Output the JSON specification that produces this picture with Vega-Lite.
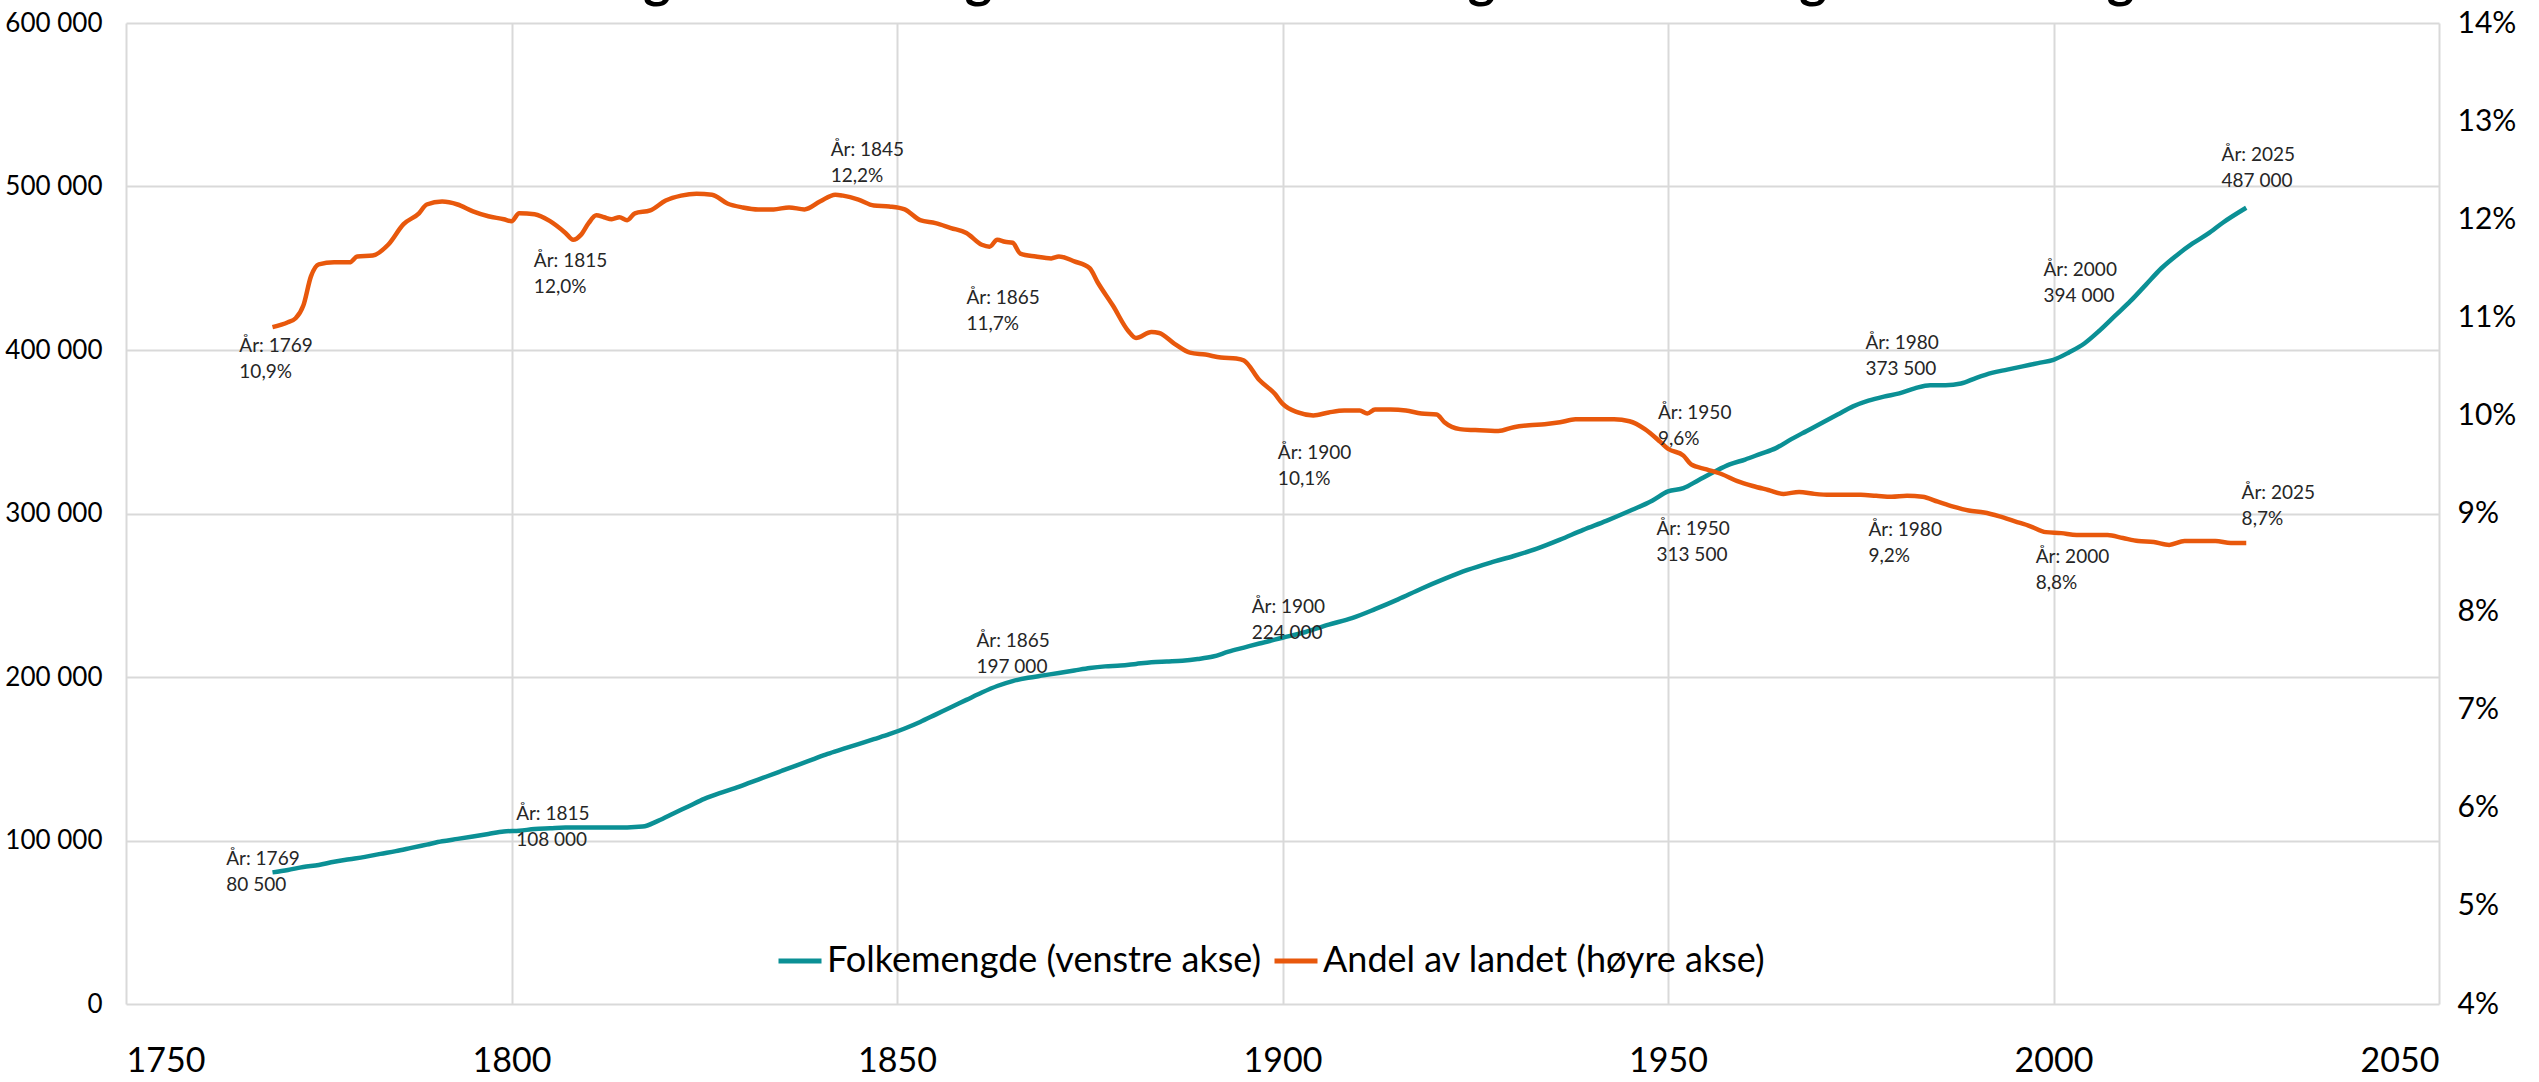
{
  "$schema": "https://vega.github.io/schema/vega-lite/v6.json",
  "width": 2313,
  "height": 981,
  "autosize": {"type": "none"},
  "padding": {"left": 126, "top": 23, "right": 100, "bottom": 78},
  "background": "white",
  "title": {
    "text": "Folkemengde i Trøndelag 1769-2025. Antall og andel av Norges befolkning.",
    "font": "Lato",
    "fontSize": 52,
    "fontWeight": "bold",
    "color": "#000000",
    "anchor": "middle",
    "frame": "group",
    "offset": 0
  },
  "config": {
    "font": "Lato",
    "view": {"stroke": null},
    "axis": {
      "domain": false,
      "ticks": false,
      "labelFont": "Lato",
      "labelColor": "#000000",
      "gridColor": "#D9D9D9",
      "gridWidth": 2,
      "title": null
    },
    "legend": {
      "orient": "none",
      "legendX": 650,
      "legendY": 914,
      "direction": "horizontal",
      "symbolType": "stroke",
      "symbolStrokeWidth": 5,
      "symbolSize": 1849,
      "labelFontSize": 36,
      "labelFont": "Lato",
      "labelColor": "#000000",
      "labelOffset": 3,
      "labelLimit": 800,
      "columnPadding": 2,
      "title": null
    }
  },
  "datasets": {
    "pop": [
      {"year": 1769, "value": 80500}, {"year": 1771, "value": 82000}, {"year": 1773, "value": 83800},
      {"year": 1775, "value": 85000}, {"year": 1777, "value": 87000}, {"year": 1779, "value": 88500},
      {"year": 1781, "value": 90000}, {"year": 1783, "value": 91800}, {"year": 1785, "value": 93500},
      {"year": 1787, "value": 95500}, {"year": 1789, "value": 97500}, {"year": 1791, "value": 99500},
      {"year": 1793, "value": 101000}, {"year": 1795, "value": 102500}, {"year": 1797, "value": 104000},
      {"year": 1799, "value": 105500}, {"year": 1801, "value": 106000}, {"year": 1803, "value": 107000},
      {"year": 1805, "value": 107500}, {"year": 1807, "value": 108000}, {"year": 1810, "value": 108000},
      {"year": 1813, "value": 108000}, {"year": 1815, "value": 108000}, {"year": 1817, "value": 108500},
      {"year": 1819, "value": 112000}, {"year": 1821, "value": 116500}, {"year": 1823, "value": 121000},
      {"year": 1825, "value": 125500}, {"year": 1827, "value": 129000}, {"year": 1829, "value": 132000},
      {"year": 1831, "value": 135500}, {"year": 1833, "value": 139000}, {"year": 1835, "value": 142500},
      {"year": 1837, "value": 146000}, {"year": 1839, "value": 149500}, {"year": 1841, "value": 153000},
      {"year": 1843, "value": 156000}, {"year": 1845, "value": 159000}, {"year": 1847, "value": 162000},
      {"year": 1849, "value": 165000}, {"year": 1851, "value": 168500}, {"year": 1853, "value": 172500},
      {"year": 1855, "value": 177000}, {"year": 1857, "value": 181500}, {"year": 1859, "value": 186000},
      {"year": 1861, "value": 190500}, {"year": 1863, "value": 194500}, {"year": 1865, "value": 197500},
      {"year": 1867, "value": 199500}, {"year": 1869, "value": 201000}, {"year": 1871, "value": 202500},
      {"year": 1873, "value": 204000}, {"year": 1875, "value": 205500}, {"year": 1877, "value": 206500},
      {"year": 1879, "value": 207000}, {"year": 1881, "value": 208000}, {"year": 1883, "value": 209000},
      {"year": 1885, "value": 209500}, {"year": 1887, "value": 210000}, {"year": 1889, "value": 211000},
      {"year": 1891, "value": 212500}, {"year": 1893, "value": 215500}, {"year": 1895, "value": 218000},
      {"year": 1897, "value": 220500}, {"year": 1900, "value": 224000}, {"year": 1903, "value": 227500},
      {"year": 1906, "value": 232000}, {"year": 1909, "value": 236000}, {"year": 1912, "value": 241500},
      {"year": 1915, "value": 247500}, {"year": 1918, "value": 254000}, {"year": 1921, "value": 260000},
      {"year": 1924, "value": 265500}, {"year": 1927, "value": 270000}, {"year": 1930, "value": 274000},
      {"year": 1933, "value": 278500}, {"year": 1936, "value": 284000}, {"year": 1939, "value": 290000},
      {"year": 1942, "value": 295500}, {"year": 1945, "value": 301500}, {"year": 1948, "value": 308000},
      {"year": 1950, "value": 313500}, {"year": 1952, "value": 315500}, {"year": 1954, "value": 320500},
      {"year": 1956, "value": 325500}, {"year": 1958, "value": 330000}, {"year": 1960, "value": 333000},
      {"year": 1962, "value": 336500}, {"year": 1964, "value": 340000}, {"year": 1966, "value": 345500},
      {"year": 1968, "value": 350500}, {"year": 1970, "value": 355500}, {"year": 1972, "value": 360500},
      {"year": 1974, "value": 365500}, {"year": 1976, "value": 369000}, {"year": 1978, "value": 371500},
      {"year": 1980, "value": 373500}, {"year": 1982, "value": 376500}, {"year": 1984, "value": 378500},
      {"year": 1986, "value": 378500}, {"year": 1988, "value": 379500}, {"year": 1990, "value": 383000},
      {"year": 1992, "value": 386000}, {"year": 1994, "value": 388000}, {"year": 1996, "value": 390000},
      {"year": 1998, "value": 392000}, {"year": 2000, "value": 394000}, {"year": 2002, "value": 398500},
      {"year": 2004, "value": 404000}, {"year": 2006, "value": 412000}, {"year": 2008, "value": 421000},
      {"year": 2010, "value": 430000}, {"year": 2012, "value": 440000}, {"year": 2014, "value": 450000},
      {"year": 2016, "value": 458000}, {"year": 2018, "value": 465000}, {"year": 2020, "value": 471000},
      {"year": 2022, "value": 478000}, {"year": 2025, "value": 487000}
    ],
    "share": [
      {"year": 1769, "value": 10.9}, {"year": 1771, "value": 10.95}, {"year": 1772, "value": 10.99},
      {"year": 1773, "value": 11.12}, {"year": 1774, "value": 11.42}, {"year": 1775, "value": 11.54},
      {"year": 1777, "value": 11.56}, {"year": 1779, "value": 11.56}, {"year": 1780, "value": 11.62},
      {"year": 1782, "value": 11.63}, {"year": 1784, "value": 11.74}, {"year": 1786, "value": 11.95},
      {"year": 1788, "value": 12.06}, {"year": 1789, "value": 12.15}, {"year": 1791, "value": 12.18},
      {"year": 1793, "value": 12.15}, {"year": 1795, "value": 12.08}, {"year": 1797, "value": 12.03},
      {"year": 1799, "value": 12.0}, {"year": 1800, "value": 11.98}, {"year": 1801, "value": 12.06},
      {"year": 1803, "value": 12.05}, {"year": 1805, "value": 11.98}, {"year": 1807, "value": 11.86},
      {"year": 1808, "value": 11.79}, {"year": 1809, "value": 11.84}, {"year": 1810, "value": 11.96},
      {"year": 1811, "value": 12.04}, {"year": 1812, "value": 12.02}, {"year": 1813, "value": 12.0},
      {"year": 1814, "value": 12.02}, {"year": 1815, "value": 11.99}, {"year": 1816, "value": 12.06},
      {"year": 1818, "value": 12.09}, {"year": 1820, "value": 12.19}, {"year": 1822, "value": 12.24},
      {"year": 1824, "value": 12.26}, {"year": 1826, "value": 12.25}, {"year": 1828, "value": 12.16},
      {"year": 1830, "value": 12.12}, {"year": 1832, "value": 12.1}, {"year": 1834, "value": 12.1},
      {"year": 1836, "value": 12.12}, {"year": 1838, "value": 12.1}, {"year": 1840, "value": 12.18},
      {"year": 1842, "value": 12.25}, {"year": 1843, "value": 12.24}, {"year": 1845, "value": 12.2},
      {"year": 1847, "value": 12.14}, {"year": 1849, "value": 12.13}, {"year": 1851, "value": 12.1},
      {"year": 1853, "value": 11.99}, {"year": 1855, "value": 11.96}, {"year": 1857, "value": 11.91},
      {"year": 1859, "value": 11.86}, {"year": 1861, "value": 11.74}, {"year": 1862, "value": 11.72},
      {"year": 1863, "value": 11.79}, {"year": 1864, "value": 11.77}, {"year": 1865, "value": 11.76},
      {"year": 1866, "value": 11.65}, {"year": 1868, "value": 11.62}, {"year": 1870, "value": 11.6},
      {"year": 1871, "value": 11.62}, {"year": 1873, "value": 11.57}, {"year": 1875, "value": 11.5},
      {"year": 1876, "value": 11.36}, {"year": 1878, "value": 11.12}, {"year": 1880, "value": 10.86},
      {"year": 1881, "value": 10.79}, {"year": 1883, "value": 10.85}, {"year": 1884, "value": 10.84},
      {"year": 1886, "value": 10.73}, {"year": 1888, "value": 10.64}, {"year": 1890, "value": 10.62},
      {"year": 1892, "value": 10.59}, {"year": 1894, "value": 10.58}, {"year": 1895, "value": 10.56},
      {"year": 1897, "value": 10.36}, {"year": 1899, "value": 10.22}, {"year": 1900, "value": 10.12},
      {"year": 1902, "value": 10.03}, {"year": 1904, "value": 10.0}, {"year": 1906, "value": 10.03},
      {"year": 1908, "value": 10.05}, {"year": 1910, "value": 10.05}, {"year": 1911, "value": 10.02},
      {"year": 1912, "value": 10.06}, {"year": 1914, "value": 10.06}, {"year": 1916, "value": 10.05},
      {"year": 1918, "value": 10.02}, {"year": 1920, "value": 10.01}, {"year": 1921, "value": 9.93},
      {"year": 1923, "value": 9.86}, {"year": 1925, "value": 9.85}, {"year": 1928, "value": 9.84},
      {"year": 1930, "value": 9.88}, {"year": 1932, "value": 9.9}, {"year": 1934, "value": 9.91},
      {"year": 1936, "value": 9.93}, {"year": 1938, "value": 9.96}, {"year": 1940, "value": 9.96},
      {"year": 1943, "value": 9.96}, {"year": 1945, "value": 9.94}, {"year": 1947, "value": 9.86},
      {"year": 1949, "value": 9.73}, {"year": 1950, "value": 9.66}, {"year": 1952, "value": 9.59},
      {"year": 1953, "value": 9.5}, {"year": 1955, "value": 9.45}, {"year": 1957, "value": 9.4},
      {"year": 1959, "value": 9.33}, {"year": 1961, "value": 9.28}, {"year": 1963, "value": 9.24},
      {"year": 1965, "value": 9.2}, {"year": 1967, "value": 9.22}, {"year": 1969, "value": 9.2},
      {"year": 1971, "value": 9.19}, {"year": 1973, "value": 9.19}, {"year": 1975, "value": 9.19},
      {"year": 1977, "value": 9.18}, {"year": 1979, "value": 9.17}, {"year": 1981, "value": 9.18},
      {"year": 1983, "value": 9.17}, {"year": 1985, "value": 9.12}, {"year": 1987, "value": 9.07},
      {"year": 1989, "value": 9.03}, {"year": 1991, "value": 9.01}, {"year": 1993, "value": 8.97},
      {"year": 1995, "value": 8.92}, {"year": 1997, "value": 8.87}, {"year": 1999, "value": 8.81},
      {"year": 2001, "value": 8.8}, {"year": 2003, "value": 8.78}, {"year": 2005, "value": 8.78},
      {"year": 2007, "value": 8.78}, {"year": 2009, "value": 8.75}, {"year": 2011, "value": 8.72},
      {"year": 2013, "value": 8.71}, {"year": 2015, "value": 8.68}, {"year": 2017, "value": 8.72},
      {"year": 2019, "value": 8.72}, {"year": 2021, "value": 8.72}, {"year": 2023, "value": 8.7},
      {"year": 2025, "value": 8.7}
    ],
    "popLabels": [
      {"year": 1763.0, "value": 94000, "label": "År: 1769\n80 500"},
      {"year": 1800.6, "value": 121800, "label": "År: 1815\n108 000"},
      {"year": 1860.3, "value": 227700, "label": "År: 1865\n197 000"},
      {"year": 1896.0, "value": 248500, "label": "År: 1900\n224 000"},
      {"year": 1948.5, "value": 296000, "label": "År: 1950\n313 500"},
      {"year": 1975.6, "value": 409900, "label": "År: 1980\n373 500"},
      {"year": 1998.7, "value": 454500, "label": "År: 2000\n394 000"},
      {"year": 2021.8, "value": 524750, "label": "År: 2025\n487 000"}
    ],
    "shareLabels": [
      {"year": 1764.7, "value": 10.8, "label": "År: 1769\n10,9%"},
      {"year": 1802.9, "value": 11.67, "label": "År: 1815\n12,0%"},
      {"year": 1841.4, "value": 12.8, "label": "År: 1845\n12,2%"},
      {"year": 1859.0, "value": 11.29, "label": "År: 1865\n11,7%"},
      {"year": 1899.4, "value": 9.71, "label": "År: 1900\n10,1%"},
      {"year": 1948.7, "value": 10.12, "label": "År: 1950\n9,6%"},
      {"year": 1976.0, "value": 8.92, "label": "År: 1980\n9,2%"},
      {"year": 1997.7, "value": 8.65, "label": "År: 2000\n8,8%"},
      {"year": 2024.4, "value": 9.3, "label": "År: 2025\n8,7%"}
    ]
  },
  "encoding": {
    "x": {
      "field": "year",
      "type": "quantitative",
      "scale": {"domain": [1750, 2050], "nice": false, "zero": false},
      "axis": {"values": [1750, 1800, 1850, 1900, 1950, 2000, 2050], "format": "d", "labelFontSize": 34, "labelPadding": 40, "grid": true}
    }
  },
  "layer": [
    {
      "encoding": {
        "y": {
          "field": "value",
          "type": "quantitative",
          "scale": {"domain": [0, 600000], "nice": false},
          "axis": {
            "orient": "left",
            "values": [0, 100000, 200000, 300000, 400000, 500000, 600000],
            "labelExpr": "datum.value == 0 ? '0' : floor(datum.value / 1000) + ' 000'",
            "labelFontSize": 26,
            "labelPadding": 24,
            "grid": true
          }
        }
      },
      "layer": [
        {
          "data": {"name": "pop"},
          "mark": {"type": "line", "strokeWidth": 4.5, "interpolate": "monotone"},
          "encoding": {
            "color": {
              "datum": "Folkemengde (venstre akse)",
              "type": "nominal",
              "scale": {"domain": ["Folkemengde (venstre akse)", "Andel av landet (høyre akse)"], "range": ["#0B9095", "#E8580C"]}
            }
          }
        },
        {
          "data": {"name": "popLabels"},
          "mark": {"type": "text", "align": "left", "baseline": "top", "lineBreak": "\n", "fontSize": 19, "lineHeight": 26, "color": "#262626", "font": "Lato"},
          "encoding": {"text": {"field": "label", "type": "nominal"}}
        }
      ]
    },
    {
      "encoding": {
        "y": {
          "field": "value",
          "type": "quantitative",
          "scale": {"domain": [4, 14], "nice": false, "zero": false},
          "axis": {"orient": "right", "values": [4, 5, 6, 7, 8, 9, 10, 11, 12, 13, 14], "labelExpr": "datum.value + '%'", "labelFontSize": 30, "labelPadding": 18, "grid": false}
        }
      },
      "layer": [
        {
          "data": {"name": "share"},
          "mark": {"type": "line", "strokeWidth": 4.5, "interpolate": "monotone"},
          "encoding": {
            "color": {"datum": "Andel av landet (høyre akse)", "type": "nominal"}
          }
        },
        {
          "data": {"name": "shareLabels"},
          "mark": {"type": "text", "align": "left", "baseline": "top", "lineBreak": "\n", "fontSize": 19, "lineHeight": 26, "color": "#262626", "font": "Lato"},
          "encoding": {"text": {"field": "label", "type": "nominal"}}
        }
      ]
    }
  ],
  "resolve": {"scale": {"y": "independent"}}
}
